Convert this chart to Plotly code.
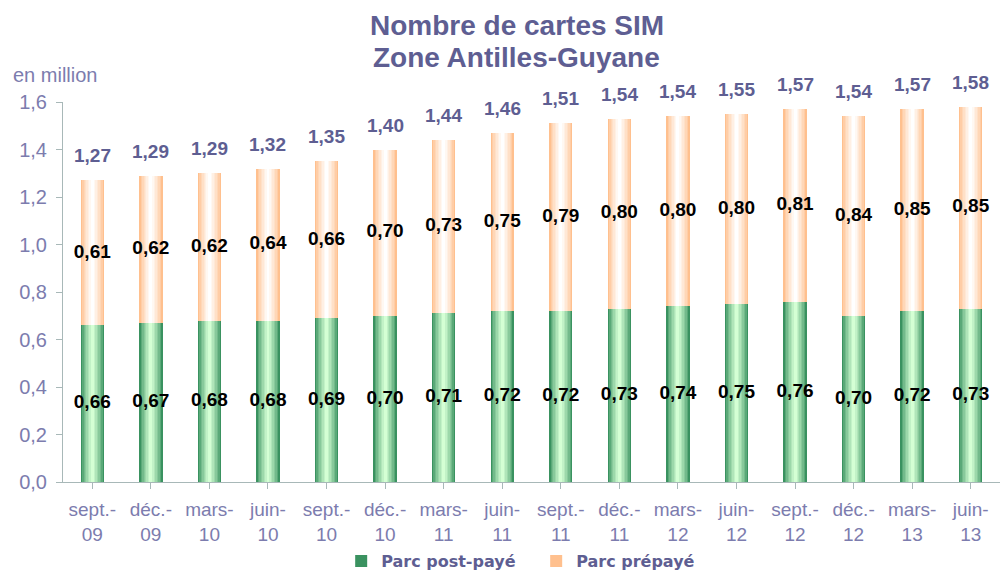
import plotly.graph_objects as go

categories = ["sept.-<br>09", "déc.-<br>09", "mars-<br>10", "juin-<br>10", "sept.-<br>10", "déc.-<br>10",
              "mars-<br>11", "juin-<br>11", "sept.-<br>11", "déc.-<br>11", "mars-<br>12", "juin-<br>12",
              "sept.-<br>12", "déc.-<br>12", "mars-<br>13", "juin-<br>13"]
post_paye = [0.66, 0.67, 0.68, 0.68, 0.69, 0.70, 0.71, 0.72, 0.72, 0.73, 0.74, 0.75, 0.76, 0.70, 0.72, 0.73]
prepaye = [0.61, 0.62, 0.62, 0.64, 0.66, 0.70, 0.73, 0.75, 0.79, 0.80, 0.80, 0.80, 0.81, 0.84, 0.85, 0.85]
totals = [1.27, 1.29, 1.29, 1.32, 1.35, 1.40, 1.44, 1.46, 1.51, 1.54, 1.54, 1.55, 1.57, 1.54, 1.57, 1.58]
y_ticks = [0, 0.2, 0.4, 0.6, 0.8, 1.0, 1.2, 1.4, 1.6]


def fmt(v):
    return f"{v:.2f}".replace(".", ",")


def mix(c1, c2, t):
    return "rgb(%d,%d,%d)" % tuple(round(a + (b - a) * t) for a, b in zip(c1, c2))


x = list(range(len(categories)))
fig = go.Figure()

green_edge, green_mid = (58, 146, 96), (212, 255, 212)
orange_edge, orange_mid = (255, 192, 142), (255, 255, 255)
n_layers = 8
full_w = 0.4
for i in range(n_layers):
    t = (i / (n_layers - 1)) ** 0.8
    w = full_w * (1 - i / n_layers)
    fig.add_trace(go.Bar(x=x, y=post_paye, base=[0] * len(x), width=w,
                         marker=dict(color=mix(green_edge, green_mid, t), line=dict(width=0)),
                         name="Parc post-payé", showlegend=(i == 0), legendgroup="post",
                         hoverinfo="skip"))
for i in range(n_layers):
    t = (i / (n_layers - 1)) ** 0.8
    w = full_w * (1 - i / n_layers)
    fig.add_trace(go.Bar(x=x, y=prepaye, base=post_paye, width=w,
                         marker=dict(color=mix(orange_edge, orange_mid, t), line=dict(width=0)),
                         name="Parc prépayé", showlegend=(i == 0), legendgroup="pre",
                         hoverinfo="skip"))

label_font = dict(family="Liberation Sans", size=19, color="black", weight="bold")
fig.add_trace(go.Scatter(x=x, y=[p / 2 for p in post_paye], mode="text",
                         text=[fmt(v) for v in post_paye], showlegend=False,
                         textfont=label_font, hoverinfo="skip"))
fig.add_trace(go.Scatter(x=x, y=[p + q / 2 for p, q in zip(post_paye, prepaye)], mode="text",
                         text=[fmt(v) for v in prepaye], showlegend=False,
                         textfont=label_font, hoverinfo="skip"))
for xi, tv, p, q in zip(x, totals, post_paye, prepaye):
    fig.add_annotation(x=xi, y=p + q, text="<b>" + fmt(tv) + "</b>", showarrow=False,
                       yanchor="bottom", yshift=12,
                       font=dict(family="Liberation Sans", size=19, color="#5e5e92"))

title_font = dict(family="Liberation Sans", size=28, color="#5e5e92")
fig.add_annotation(x=0.4845, y=1.2026, xref="paper", yref="paper", text="<b>Nombre de cartes SIM</b>",
                   showarrow=False, xanchor="center", yanchor="middle", font=title_font)
fig.add_annotation(x=0.4845, y=1.1158, xref="paper", yref="paper", text="<b>Zone Antilles-Guyane</b>",
                   showarrow=False, xanchor="center", yanchor="middle", font=title_font)
fig.add_annotation(x=-0.056, y=1.071, xref="paper", yref="paper", text="en million", showarrow=False,
                   xanchor="left", yanchor="middle",
                   font=dict(family="Liberation Sans", size=20, color="#7c7cae"))

fig.update_layout(
    width=1006, height=570,
    margin=dict(l=63, r=6, t=102, b=88, autoexpand=False),
    paper_bgcolor="white", plot_bgcolor="white",
    barmode="overlay", bargap=0,
    font=dict(family="Liberation Sans", color="#7c7cae"),
    separators=", ",
    legend=dict(orientation="h", x=0.505, xanchor="center", y=-0.208, yanchor="middle",
                font=dict(family="DejaVu Sans", size=16, color="#5e5e92", weight="bold"),
                traceorder="normal", itemwidth=30, entrywidth=150),
    showlegend=True,
)

fig.update_xaxes(tickmode="array", tickvals=x, ticktext=categories, range=[-0.5, len(x) - 0.5],
                 showline=True, linecolor="#a8b8b8", linewidth=1, ticks="outside", ticklen=6,
                 tickcolor="#a8b8b8", tickson="boundaries", showgrid=False, zeroline=False,
                 automargin=False, ticklabelstandoff=4,
                 tickfont=dict(family="Liberation Sans", size=19, color="#7c7cae"))
fig.update_yaxes(range=[0, 1.6], tickvals=y_ticks, tickformat=".1f",
                 showline=True, linecolor="#a8b8b8", linewidth=1, ticks="outside", ticklen=6,
                 tickcolor="#a8b8b8", showgrid=False, zeroline=False, automargin=False,
                 ticklabelstandoff=5,
                 tickfont=dict(family="Liberation Sans", size=20, color="#7c7cae"))

fig.write_html("out.html", config={"displayModeBar": False},
               post_script="document.body.style.margin='0';document.body.style.overflow='hidden';")
